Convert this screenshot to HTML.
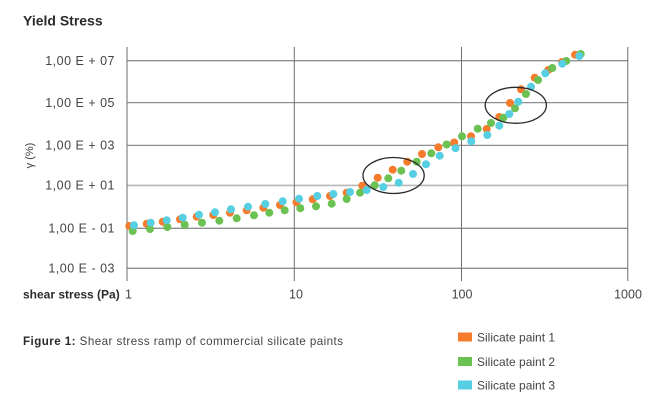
<!DOCTYPE html>
<html>
<head>
<meta charset="utf-8">
<style>
  html,body{margin:0;padding:0;background:#fff;}
  svg{display:block;}
  text{font-family:"Liberation Sans",sans-serif;}
</style>
</head>
<body>
<svg width="668" height="410" viewBox="0 0 668 410" xmlns="http://www.w3.org/2000/svg">
  <rect width="668" height="410" fill="#fff"/>
  <!-- Title -->
  <text x="23" y="25.5" font-size="14" font-weight="bold" fill="#2b2b2b">Yield Stress</text>

  <!-- horizontal gridlines -->
  <g stroke="#8f8f8f" stroke-width="1.3">
    <line x1="127" y1="60.7" x2="628" y2="60.7"/>
    <line x1="127" y1="102.6" x2="628" y2="102.6"/>
    <line x1="127" y1="145.4" x2="628" y2="145.4"/>
    <line x1="127" y1="228.3" x2="628" y2="228.3"/>
    <line x1="127" y1="268.3" x2="628" y2="268.3"/>
  </g>
  <line x1="127" y1="185.4" x2="628" y2="185.4" stroke="#b8b8b8" stroke-width="1.6"/>
  <!-- vertical gridlines -->
  <g stroke="#6e6e6e" stroke-width="1">
    <line x1="127" y1="47" x2="127" y2="281"/>
    <line x1="294.3" y1="47" x2="294.3" y2="281"/>
    <line x1="461.5" y1="47" x2="461.5" y2="281"/>
    <line x1="627.8" y1="47" x2="627.8" y2="281"/>
  </g>

  <!-- y tick labels -->
  <g font-size="12.5" fill="#444" text-anchor="end" letter-spacing="0.5">
    <text x="115" y="65">1,00 E + 07</text>
    <text x="115" y="107">1,00 E + 05</text>
    <text x="115" y="149.5">1,00 E + 03</text>
    <text x="115" y="189.5">1,00 E + 01</text>
    <text x="115" y="232.5">1,00 E - 01</text>
    <text x="115" y="272.5">1,00 E - 03</text>
  </g>
  <!-- y axis title -->
  <text x="0" y="0" font-size="11" fill="#444" text-anchor="middle" transform="translate(33,155.5) rotate(-90)">γ (%)</text>

  <!-- x labels -->
  <text x="23" y="298.5" font-size="12" font-weight="bold" fill="#2b2b2b">shear stress (Pa)</text>
  <g font-size="12.5" fill="#444" text-anchor="middle">
    <text x="128.5" y="298.5">1</text>
    <text x="296" y="298.5">10</text>
    <text x="462" y="298.5">100</text>
    <text x="628" y="298.5">1000</text>
  </g>

  <!-- data -->
  <g fill="#f47c2c">
    <circle cx="129.3" cy="226" r="4"/><circle cx="146.7" cy="223.7" r="4"/><circle cx="162.7" cy="221.7" r="4"/>
    <circle cx="180" cy="219.3" r="4"/><circle cx="196.7" cy="216.7" r="4"/><circle cx="213.3" cy="215" r="4"/>
    <circle cx="230" cy="212.7" r="4"/><circle cx="246.7" cy="210.3" r="4"/><circle cx="263.3" cy="207.7" r="4"/>
    <circle cx="280" cy="205" r="4"/><circle cx="296.5" cy="202.3" r="4"/><circle cx="312.7" cy="199.3" r="4"/>
    <circle cx="330" cy="196" r="4"/><circle cx="346.7" cy="192.7" r="4"/><circle cx="362.3" cy="185.7" r="4"/>
    <circle cx="377.7" cy="177.7" r="4"/><circle cx="392.7" cy="169.7" r="4"/><circle cx="407.3" cy="161.7" r="4"/>
    <circle cx="422" cy="154" r="4"/><circle cx="438.3" cy="147.3" r="4"/><circle cx="454.2" cy="142.5" r="4"/>
    <circle cx="471" cy="136.3" r="4"/><circle cx="486.7" cy="129" r="4"/><circle cx="499.3" cy="117" r="4"/>
    <circle cx="510" cy="103" r="4"/><circle cx="521" cy="89.3" r="4"/><circle cx="534.7" cy="77.7" r="4"/>
    <circle cx="548.3" cy="70" r="4"/><circle cx="562" cy="62" r="4"/><circle cx="575" cy="54.7" r="4"/>
  </g>
  <g fill="#6cc153">
    <circle cx="132.7" cy="231" r="4"/><circle cx="150" cy="229" r="4"/><circle cx="167.3" cy="227" r="4"/>
    <circle cx="184.7" cy="224.7" r="4"/><circle cx="202" cy="222.7" r="4"/><circle cx="219.3" cy="220.7" r="4"/>
    <circle cx="236.7" cy="218.3" r="4"/><circle cx="254" cy="215.3" r="4"/><circle cx="269.3" cy="212.7" r="4"/>
    <circle cx="284.7" cy="210.3" r="4"/><circle cx="300.3" cy="208.2" r="4"/><circle cx="316" cy="206.3" r="4"/>
    <circle cx="331.7" cy="203.7" r="4"/><circle cx="346.7" cy="199" r="4"/><circle cx="360" cy="192.7" r="4"/>
    <circle cx="374.7" cy="185.3" r="4"/><circle cx="388.3" cy="178.3" r="4"/><circle cx="401.3" cy="170.7" r="4"/>
    <circle cx="416.7" cy="161.7" r="4"/><circle cx="431.3" cy="153.3" r="4"/><circle cx="446.7" cy="144.5" r="4"/>
    <circle cx="462" cy="136.3" r="4"/><circle cx="477.7" cy="128.7" r="4"/><circle cx="491" cy="123" r="4"/>
    <circle cx="503.3" cy="117.7" r="4"/><circle cx="515" cy="108.3" r="4"/><circle cx="526" cy="94" r="4"/>
    <circle cx="538" cy="80" r="4"/><circle cx="552.3" cy="68" r="4"/><circle cx="566.3" cy="61" r="4"/>
    <circle cx="580.7" cy="54" r="4"/>
  </g>
  <g fill="#56cfe3">
    <circle cx="134" cy="225.3" r="4"/><circle cx="150.7" cy="222.7" r="4"/><circle cx="166.7" cy="220.3" r="4"/>
    <circle cx="182.7" cy="217.7" r="4"/><circle cx="199" cy="214.7" r="4"/><circle cx="215" cy="212.3" r="4"/>
    <circle cx="231" cy="209.3" r="4"/><circle cx="248" cy="206.7" r="4"/><circle cx="265.3" cy="204" r="4"/>
    <circle cx="282.7" cy="201.3" r="4"/><circle cx="299" cy="198.7" r="4"/><circle cx="317.3" cy="196" r="4"/>
    <circle cx="333.3" cy="194" r="4"/><circle cx="350" cy="192" r="4"/><circle cx="366.7" cy="190" r="4"/>
    <circle cx="383.3" cy="187" r="4"/><circle cx="398.7" cy="182.7" r="4"/><circle cx="413" cy="174" r="4"/>
    <circle cx="426" cy="164.3" r="4"/><circle cx="439.7" cy="155.7" r="4"/><circle cx="455.5" cy="148.2" r="4"/>
    <circle cx="471.3" cy="141.3" r="4"/><circle cx="487.3" cy="135" r="4"/><circle cx="499.3" cy="125.7" r="4"/>
    <circle cx="509.3" cy="114" r="4"/><circle cx="518.3" cy="101.7" r="4"/><circle cx="531" cy="86.7" r="4"/>
    <circle cx="545.3" cy="73.3" r="4"/><circle cx="562.3" cy="63.7" r="4"/><circle cx="579.3" cy="56" r="4"/>
  </g>

  <!-- ellipses -->
  <g fill="none" stroke="#2a2a2a" stroke-width="1.3">
    <ellipse cx="393.6" cy="175.5" rx="30.6" ry="18"/>
    <ellipse cx="515.8" cy="105.3" rx="30.6" ry="18"/>
  </g>

  <!-- caption -->
  <text x="23" y="345" font-size="11.6" fill="#444" textLength="320" lengthAdjust="spacing"><tspan font-weight="bold" fill="#2b2b2b">Figure 1:</tspan> Shear stress ramp of commercial silicate paints</text>

  <!-- legend -->
  <rect x="458" y="332.5" width="14" height="9" fill="#f47c2c"/>
  <rect x="458" y="357" width="14" height="9" fill="#6cc153"/>
  <rect x="458" y="380.5" width="14" height="9" fill="#56cfe3"/>
  <g font-size="12" fill="#444">
    <text x="477" y="341.5">Silicate paint 1</text>
    <text x="477" y="366">Silicate paint 2</text>
    <text x="477" y="389.5">Silicate paint 3</text>
  </g>
</svg>
</body>
</html>
